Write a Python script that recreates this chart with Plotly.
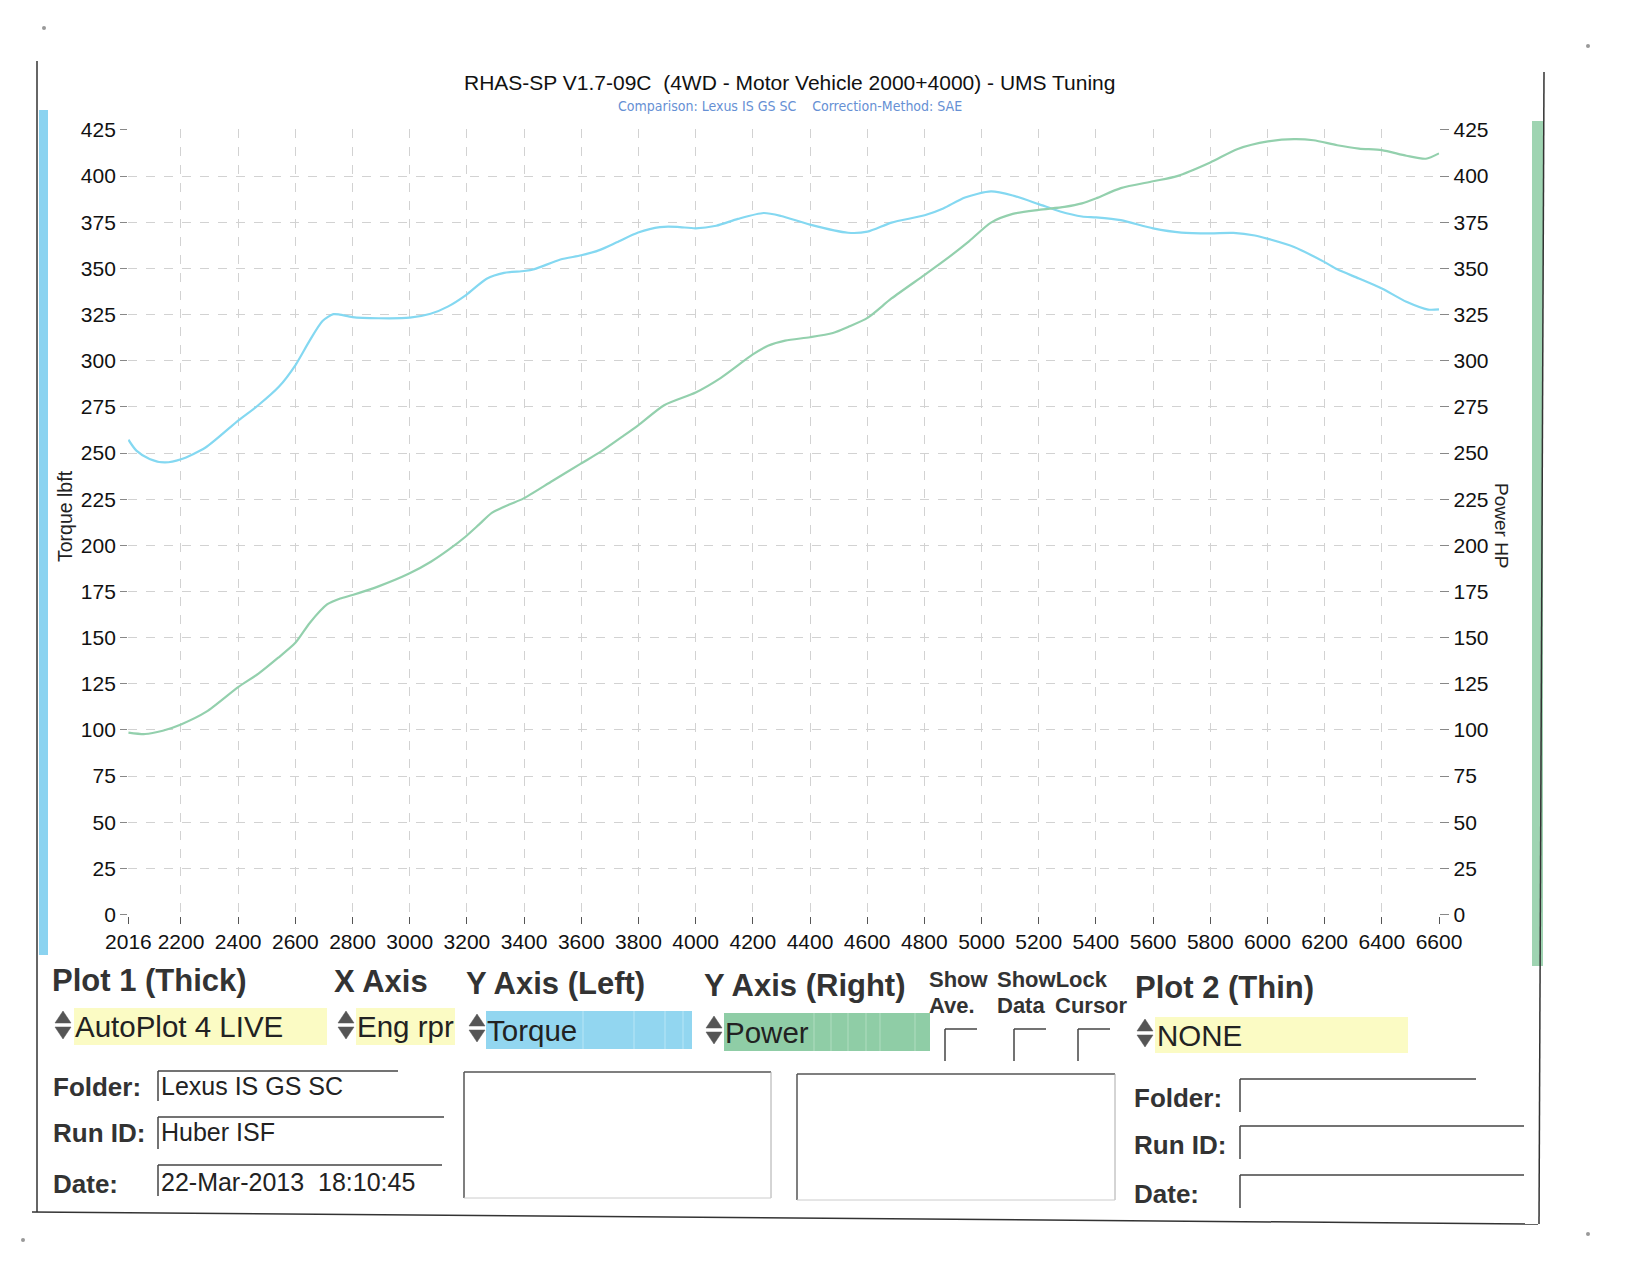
import plotly.graph_objects as go

# ---------------- data ----------------
rpm_torque = [2016, 2044, 2090, 2143, 2200, 2286, 2401, 2468, 2543, 2601, 2649, 2695, 2733, 2755,
              2800, 2891, 3000, 3073, 3133, 3198, 3269, 3330, 3400, 3436, 3527, 3600, 3663, 3724,
              3799, 3875, 3935, 4000, 4072, 4148, 4238, 4299, 4400, 4533, 4601, 4685, 4801, 4866,
              4942, 5033, 5109, 5200, 5275, 5351, 5401, 5487, 5600, 5699, 5800, 5881, 5956, 6002,
              6093, 6200, 6244, 6320, 6400, 6486, 6562, 6600]
torque_lbft = [257.2, 251.3, 246.8, 244.9, 246.6, 253.0, 267.7, 275.6, 286.0, 297.8, 310.6, 321.5, 325.2, 325.0,
               323.6, 323.0, 323.3, 325.4, 329.3, 335.7, 344.4, 347.6, 348.6, 349.6, 354.8, 357.1, 359.9, 364.1,
               369.4, 372.4, 372.5, 371.7, 373.1, 376.8, 380.0, 378.4, 373.7, 369.3, 369.9, 374.8, 378.8, 382.5,
               388.4, 391.7, 389.5, 384.8, 380.8, 378.1, 377.6, 376.1, 371.7, 369.4, 369.0, 369.2, 367.8, 366.0,
               361.6, 353.4, 349.5, 344.5, 339.1, 331.9, 327.7, 327.8]

rpm_power = [2016, 2074, 2136, 2200, 2289, 2400, 2471, 2539, 2600, 2651, 2712, 2757, 2800, 2893, 2998,
             3074, 3135, 3196, 3242, 3287, 3348, 3397, 3500, 3597, 3667, 3742, 3799, 3890, 4000, 4087,
             4200, 4253, 4313, 4400, 4480, 4533, 4601, 4685, 4801, 4874, 4957, 5033, 5109, 5200, 5290,
             5351, 5401, 5487, 5600, 5684, 5800, 5896, 6002, 6093, 6161, 6244, 6320, 6400, 6486, 6554, 6600]
power_hp = [98.6, 97.8, 99.6, 103.0, 109.9, 123.2, 130.5, 139.0, 147.2, 158.1, 168.1, 171.2, 173.1, 177.9, 184.7,
            191.1, 197.5, 204.8, 211.2, 217.6, 222.1, 225.3, 235.0, 244.1, 250.6, 258.7, 265.0, 275.9, 282.8, 290.6,
            303.4, 308.1, 310.9, 312.7, 315.0, 318.3, 323.2, 333.7, 346.5, 354.7, 364.8, 374.8, 379.5, 381.7, 383.3,
            385.2, 388.0, 393.5, 397.2, 400.0, 407.4, 414.7, 418.8, 420.0, 419.4, 416.7, 414.9, 414.1, 411.0, 409.4, 412.3]

x_ticks = [2016, 2200, 2400, 2600, 2800, 3000, 3200, 3400, 3600, 3800, 4000, 4200, 4400,
           4600, 4800, 5000, 5200, 5400, 5600, 5800, 6000, 6200, 6400, 6600]
y_ticks = list(range(0, 426, 25))

title_text = "RHAS-SP V1.7-09C\u00a0\u00a0(4WD - Motor Vehicle 2000+4000) - UMS Tuning"
subtitle_text = "Comparison: Lexus IS GS SC\u00a0\u00a0\u00a0\u00a0Correction-Method: SAE"

# ---------------- helpers (pixel -> paper) ----------------
W, H = 1650, 1275
def X(p):
    return p / W
def Y(p):
    return 1 - p / H

FONT = "Liberation Sans, Arial, sans-serif"
NARROW = "Liberation Sans Narrow, Arial Narrow, DejaVu Sans Condensed, Liberation Sans, sans-serif"

fig = go.Figure()
fig.add_trace(go.Scatter(x=rpm_torque, y=torque_lbft, mode="lines", yaxis="y",
                         line=dict(color="#84d8f1", width=2.2, shape="spline", smoothing=0.7),
                         hoverinfo="skip", showlegend=False))
fig.add_trace(go.Scatter(x=rpm_power, y=power_hp, mode="lines", yaxis="y2",
                         line=dict(color="#93d0ad", width=2.2, shape="spline", smoothing=0.7),
                         hoverinfo="skip", showlegend=False))

shapes = []
def line(x0, y0, x1, y1, color="#444", width=1.5):
    shapes.append(dict(type="line", xref="paper", yref="paper", x0=X(x0), y0=Y(y0), x1=X(x1), y1=Y(y1),
                       line=dict(color=color, width=width), layer="above"))
def rect(x0, y0, x1, y1, fill, lc=None, layer="below"):
    shapes.append(dict(type="rect", xref="paper", yref="paper", x0=X(x0), y0=Y(y0), x1=X(x1), y1=Y(y1),
                       fillcolor=fill, line=dict(width=0 if lc is None else 1, color=lc or fill), layer=layer))
def arrows(x0, yt, w=16, color="#555"):
    up = f"M {X(x0)},{Y(yt+12)} L {X(x0+w)},{Y(yt+12)} L {X(x0+w/2)},{Y(yt)} Z"
    dn = f"M {X(x0)},{Y(yt+16)} L {X(x0+w)},{Y(yt+16)} L {X(x0+w/2)},{Y(yt+28)} Z"
    for p in (up, dn):
        shapes.append(dict(type="path", xref="paper", yref="paper", path=p,
                           fillcolor=color, line=dict(color=color, width=0.5), layer="above"))

# scan frame
line(37, 61, 37, 1212, "#333", 1.5)
line(32, 1212, 1538, 1224, "#333", 1.5)
line(1544, 72, 1539, 1224, "#333", 1.5)
# side bars
rect(39, 110, 48, 955, "#8bd3f0")
rect(1532, 121, 1543, 966, "#9fd4b2")

# fields row
rect(74, 1008, 327, 1045, "#fbfbc4")
rect(356, 1008, 455, 1045, "#fbfbc4")
rect(486, 1011, 692, 1049, "#92d6f0")
rect(724, 1013, 930, 1051, "#8fcda6")
rect(1155, 1017, 1408, 1053, "#fbfbc4")
for sx in (583, 634, 665, 683):
    line(sx, 1011, sx, 1049, "#b8e6f6", 1)
for sx in (814, 831, 848, 866, 880, 915):
    line(sx, 1013, sx, 1051, "#b0ddc0", 1)
for ax0, ayt in ((55, 1011), (338, 1011), (469, 1014), (706, 1016), (1137, 1019)):
    arrows(ax0, ayt)
# checkboxes
for cx in (945, 1014, 1078):
    line(cx, 1029, cx + 32, 1029, "#444", 1.5)
    line(cx, 1029, cx, 1061, "#444", 1.5)
# left info fields
line(158, 1071, 398, 1071); line(158, 1071, 158, 1101)
line(158, 1117, 444, 1117); line(158, 1117, 158, 1149)
line(158, 1165, 442, 1165); line(158, 1165, 158, 1196)
# middle boxes
for bx0, by0, bx1, by1 in ((464, 1072, 771, 1198), (797, 1074, 1115, 1200)):
    line(bx0, by0, bx1, by0, "#555", 1.5)
    line(bx0, by0, bx0, by1, "#555", 1.5)
    line(bx1, by0, bx1, by1, "#aaa", 1)
    line(bx0, by1, bx1, by1, "#ccc", 1)
# right info fields
line(1240, 1079, 1476, 1079); line(1240, 1079, 1240, 1112)
line(1240, 1126, 1524, 1126); line(1240, 1126, 1240, 1159)
line(1240, 1175, 1524, 1175); line(1240, 1175, 1240, 1208)
# scan dots
for dx, dy in ((44, 28), (1588, 46), (23, 1240), (1588, 1234)):
    shapes.append(dict(type="circle", xref="paper", yref="paper", x0=X(dx-2), y0=Y(dy-2), x1=X(dx+2), y1=Y(dy+2),
                       fillcolor="#999", line=dict(width=0)))

ann = []
def text(t, x, y, size, bold=False, color="#222", family=FONT, xanchor="left", angle=0):
    ann.append(dict(text=f"<b>{t}</b>" if bold else t, x=X(x), y=Y(y), xref="paper", yref="paper",
                    xanchor=xanchor, yanchor="middle", showarrow=False, textangle=angle,
                    font=dict(size=size, color=color, family=family)))

text(title_text, 789, 82, 21, color="#111", xanchor="center")
text(subtitle_text, 790, 106, 14, color="#6690d4", family=NARROW, xanchor="center")
text("Torque lbft", 65, 516, 19.5, color="#222", xanchor="center", angle=-90)
text("Power HP", 1502, 526, 19, color="#222", xanchor="center", angle=90)

text("Plot 1 (Thick)", 50, 980, 31, bold=True, color="#333")
text("X Axis", 332, 982, 31, bold=True, color="#333")
text("Y Axis (Left)", 464, 983, 31, bold=True, color="#333")
text("Y Axis (Right)", 702, 985, 31, bold=True, color="#333")
text("Show", 927, 979, 22, bold=True, color="#333")
text("ShowLock", 995, 979, 22, bold=True, color="#333")
text("Ave.", 927, 1005, 22, bold=True, color="#333")
text("Data", 995, 1005, 22, bold=True, color="#333")
text("Cursor", 1053, 1005, 22, bold=True, color="#333")
text("Plot 2 (Thin)", 1133, 987, 31, bold=True, color="#333")

text("AutoPlot 4 LIVE", 73, 1026, 29.5)
text("Eng rpr", 355, 1026, 29.5)
text("Torque", 485, 1030, 29.5)
text("Power", 723, 1032, 29.5)
text("NONE", 1155, 1035, 29.5)

text("Folder:", 51, 1087, 26, bold=True, color="#333")
text("Run ID:", 51, 1133, 26, bold=True, color="#333")
text("Date:", 51, 1184, 26, bold=True, color="#333")
text("Lexus IS GS SC", 159, 1086, 25)
text("Huber ISF", 159, 1132, 25)
text("22-Mar-2013\u00a0\u00a018:10:45", 159, 1182, 25)

text("Folder:", 1132, 1098, 26, bold=True, color="#333")
text("Run ID:", 1132, 1145, 26, bold=True, color="#333")
text("Date:", 1132, 1194, 26, bold=True, color="#333")

tickfont = dict(size=21, color="#111", family=FONT)
grid = dict(showgrid=True, gridcolor="#d2d2d2", griddash="dash", gridwidth=1)

fig.update_layout(
    width=W, height=H, autosize=False,
    margin=dict(l=0, r=0, t=0, b=0, autoexpand=False),
    paper_bgcolor="white", plot_bgcolor="white",
    showlegend=False,
    shapes=shapes, annotations=ann,
    xaxis=dict(domain=[X(128.1), X(1439.3)], range=[2015, 6601], tickmode="array", automargin=False,
               tickvals=x_ticks, ticktext=[str(v) for v in x_ticks], ticks="outside", ticklen=7,
               tickcolor="#555", tickwidth=1, tickfont=tickfont, zeroline=False, showline=False,
               **grid),
    yaxis=dict(domain=[Y(915.5), Y(129)], range=[-0.5, 425.5], tickmode="array", automargin=False,
               tickvals=y_ticks, ticktext=[str(v) for v in y_ticks], ticks="outside", ticklen=7,
               tickcolor="#888", tickwidth=1, tickfont=tickfont, zeroline=False, showline=False,
               **grid),
    yaxis2=dict(overlaying="y", side="right", anchor="x", range=[-0.5, 425.5], tickmode="array",
                automargin=False,
                tickvals=y_ticks, ticktext=[str(v) for v in y_ticks], ticks="outside", ticklen=9,
                tickcolor="#888", tickwidth=1, tickfont=tickfont, zeroline=False, showline=False,
                showgrid=False),
)

fig.write_html("out.html", config={"displayModeBar": False, "staticPlot": True},
               post_script="document.body.style.margin='0';document.body.style.overflow='hidden';")
